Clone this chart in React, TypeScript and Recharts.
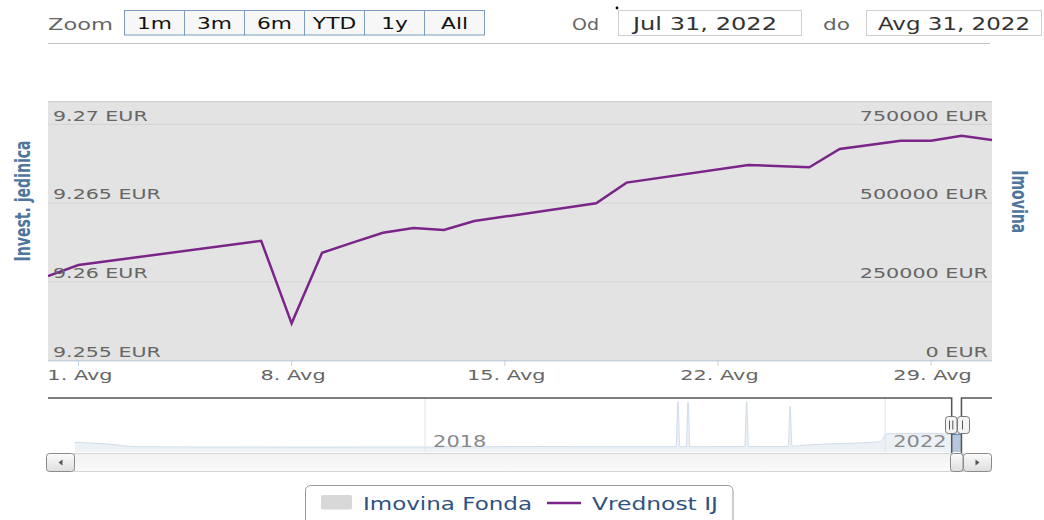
import {
  ComposedChart,
  AreaChart,
  Area,
  Line,
  XAxis,
  YAxis,
  CartesianGrid,
  ReferenceArea,
  ReferenceLine,
} from 'recharts';

const FONT = '"DejaVu Sans", Verdana, sans-serif';

// main chart (Jul 31 - Aug 31 2022)
const dates = [
  '2022-07-31', '2022-08-01', '2022-08-07', '2022-08-08', '2022-08-09', '2022-08-10',
  '2022-08-11', '2022-08-12', '2022-08-13', '2022-08-14', '2022-08-18', '2022-08-19',
  '2022-08-23', '2022-08-25', '2022-08-26', '2022-08-28', '2022-08-29', '2022-08-30',
  '2022-08-31',
];
const vrednostIJ = [
  9.26037, 9.26107, 9.26261, 9.25737, 9.26185, 9.26249,
  9.26312, 9.26342, 9.26329, 9.26386, 9.26499, 9.2663,
  9.26742, 9.26727, 9.26843, 9.26896, 9.26896, 9.26928,
  9.269,
];
// fund assets sit above the right axis max, so the area fills the whole plot
const imovinaFonda = [
  1760000, 1762000, 1765000, 1763000, 1766000, 1768000,
  1769000, 1770000, 1770000, 1771000, 1774000, 1776000,
  1778000, 1777000, 1779000, 1780000, 1781000, 1782000,
  1780000,
];
const xTicks = ['2022-08-01', '2022-08-08', '2022-08-15', '2022-08-22', '2022-08-29'];
const leftTicks = [9.255, 9.26, 9.265, 9.27];
const rightTicks = [0, 250000, 500000, 750000];
const rangeFrom = '2022-07-31';
const rangeTo = '2022-08-31';

// navigator (full history of Imovina Fonda)
const navDates = [
  '2014-12-16', '2015-03-27', '2015-07-01', '2016-01-01', '2017-01-01', '2018-01-01',
  '2019-01-01', '2019-07-01', '2020-01-01', '2020-03-08', '2020-03-14', '2020-03-20',
  '2020-04-09', '2020-04-15', '2020-04-21', '2020-10-12', '2020-10-18', '2020-10-24',
  '2021-02-27', '2021-03-05', '2021-03-11', '2021-04-27', '2021-12-16', '2022-01-05',
  '2022-03-01', '2022-06-01', '2022-07-31', '2022-08-31',
];
const navImovina = [
  970000, 800000, 530000, 500000, 480000, 500000,
  550000, 520000, 530000, 530000, 5030000, 530000,
  530000, 5030000, 530000, 540000, 5030000, 540000,
  560000, 4600000, 580000, 700000, 1030000, 1800000,
  1850000, 1870000, 1760000, 1780000,
];
const navYears = ['2018-01-01', '2022-01-01'];
const navFrom = '2014-09-22';
const navTo = '2022-12-06';

const zoomButtons = ['1m', '3m', '6m', 'YTD', '1y', 'All'];
const inputFrom = 'Jul 31, 2022';
const inputTo = 'Avg 31, 2022';

const toTs = (d: string) => Date.parse(d + 'T00:00:00Z');

const mainData = dates.map((d, i) => ({ t: toTs(d), v: vrednostIJ[i], a: imovinaFonda[i] }));
const navData = navDates.map((d, i) => ({ t: toTs(d), a: navImovina[i] }));

const navMin = toTs(navFrom);
const navMax = toTs(navTo);
const navX = (t: number) => 48 + ((t - navMin) / (navMax - navMin)) * 944;

const LINE_COLOR = '#7b2489';
const AXIS_BLUE = '#c0d0e0';
const TITLE_COLOR = '#4d759e';

function DateTick(props: any) {
  const { x, y, payload } = props;
  const d = new Date(payload.value).getUTCDate();
  return (
    <g transform={`translate(${x + 1.5},${y})`}>
      <text transform="scale(1.44,1)" textAnchor="middle" dy={12.3} fontSize={14.5} fill="#666" fontFamily={FONT}>
        {`${d}. Avg`}
      </text>
    </g>
  );
}

// labels sit inside the plot, just above their grid line
function LeftTick(props: any) {
  const { y, payload } = props;
  return (
    <text transform={`translate(53,${y - 3.7}) scale(1.47,1)`} fontSize={14} fill="#666" fontFamily={FONT}>
      {`${payload.value} EUR`}
    </text>
  );
}

function RightTick(props: any) {
  const { y, payload } = props;
  return (
    <text transform={`translate(988,${y - 3.7}) scale(1.48,1)`} textAnchor="end" fontSize={14} fill="#666" fontFamily={FONT}>
      {`${payload.value} EUR`}
    </text>
  );
}

// navigator chart is placed at top 390, so y is local
const yearLabel = (label: string) => (p: any) => {
  const vb = p.viewBox || {};
  return (
    <text transform={`translate(${vb.x + 8},57.3) scale(1.4,1)`} fontSize={15} fill="#888" fontFamily={FONT}>
      {label}
    </text>
  );
};

function MainChart() {
  return (
    <ComposedChart
      width={1044}
      height={400}
      data={mainData}
      margin={{ top: 101.7, right: 51, bottom: 9.3, left: 47 }}
    >
      <CartesianGrid yAxisId="left" vertical={false} stroke="#c0c0c0" />
      <Area
        yAxisId="right"
        dataKey="a"
        type="linear"
        stroke="none"
        fill="#dadada"
        fillOpacity={0.75}
        isAnimationActive={false}
      />
      <Line
        yAxisId="left"
        dataKey="v"
        type="linear"
        stroke={LINE_COLOR}
        strokeWidth={2.5}
        dot={false}
        activeDot={false}
        isAnimationActive={false}
      />
      <XAxis
        dataKey="t"
        type="number"
        domain={[toTs(rangeFrom), toTs(rangeTo)]}
        ticks={xTicks.map(toTs)}
        allowDataOverflow
        height={30}
        stroke={AXIS_BLUE}
        tickSize={5}
        tick={<DateTick />}
      />
      <YAxis
        yAxisId="left"
        orientation="left"
        width={1}
        domain={[9.255, 9.271434]}
        ticks={leftTicks}
        interval={0}
        allowDataOverflow
        axisLine={false}
        tickLine={false}
        tick={<LeftTick />}
      />
      <YAxis
        yAxisId="right"
        orientation="right"
        width={1}
        domain={[0, 821700]}
        ticks={rightTicks}
        interval={0}
        allowDataOverflow
        axisLine={false}
        tickLine={false}
        tick={<RightTick />}
      />
    </ComposedChart>
  );
}

function Navigator() {
  return (
    <AreaChart width={1044} height={62} data={navData} margin={{ top: 8, right: 52, bottom: 0, left: 48 }}>
      <XAxis dataKey="t" type="number" domain={[navMin, navMax]} hide />
      <YAxis domain={[0, 5400000]} hide />
      {navYears.map((y) => (
        <ReferenceLine key={y} x={toTs(y)} stroke="#e4e4e4" label={yearLabel(y.slice(0, 4))} />
      ))}
      <Area
        dataKey="a"
        type="monotone"
        stroke="#4572a7"
        strokeWidth={1}
        fill="#4572a7"
        fillOpacity={0.4}
        isAnimationActive={false}
      />
      <ReferenceArea x1={navMin} x2={toTs(rangeFrom)} fill="#fff" fillOpacity={0.75} stroke="none" />
      <ReferenceArea x1={toTs(rangeTo)} x2={navMax} fill="#fff" fillOpacity={0.75} stroke="none" />
    </AreaChart>
  );
}

function Chrome() {
  const hx1 = navX(toTs(rangeFrom));
  const hx2 = navX(toTs(rangeTo));
  return (
    <svg width={1044} height={520} style={{ position: 'absolute', left: 0, top: 0, pointerEvents: 'none' }} fontFamily={FONT}>
      <defs>
        <linearGradient id="sb" x1="0" y1="0" x2="0" y2="1">
          <stop offset="0" stopColor="#fbfbfb" />
          <stop offset="1" stopColor="#dedede" />
        </linearGradient>
        <linearGradient id="track" x1="0" y1="0" x2="0" y2="1">
          <stop offset="0" stopColor="#f2f2f2" />
          <stop offset="1" stopColor="#fafafa" />
        </linearGradient>
      </defs>

      {/* range selector */}
      <text x={48} y={30} fontSize={16} textLength={65} lengthAdjust="spacingAndGlyphs" fill="#666">Zoom</text>
      {zoomButtons.map((b, i) => (
        <g key={b}>
          <rect x={124.5 + 60 * i} y={10.5} width={60} height={24.5} fill="#f7f7f7" stroke="#7d9bc1" />
          <text transform={`translate(${154.5 + 60 * i},29.3) scale(1.45,1)`} textAnchor="middle" fontSize={15} fill="#111">
            {b}
          </text>
        </g>
      ))}
      <text x={572} y={30} fontSize={15} textLength={27} lengthAdjust="spacingAndGlyphs" fill="#666">Od</text>
      <rect x={618.5} y={10.5} width={183} height={25} fill="#fff" stroke="#cfcfcf" />
      <circle cx={617} cy={8} r={1.4} fill="#000" />
      <text x={633} y={30} fontSize={17} textLength={144} lengthAdjust="spacingAndGlyphs" fill="#333">{inputFrom}</text>
      <text x={823} y={30} fontSize={15} textLength={27} lengthAdjust="spacingAndGlyphs" fill="#666">do</text>
      <rect x={866.5} y={10.5} width={175} height={25} fill="#fff" stroke="#cfcfcf" />
      <text x={878} y={30} fontSize={17} textLength={152} lengthAdjust="spacingAndGlyphs" fill="#333">{inputTo}</text>
      <line x1={48} x2={990} y1={43.5} y2={43.5} stroke="#c4c4c4" />

      {/* axis titles */}
      <text
        transform="translate(22.5,201) scale(1.45,1) rotate(-90)"
        textAnchor="middle"
        dominantBaseline="central"
        fontSize={14.5}
        fontWeight="bold"
        textLength={121}
        lengthAdjust="spacingAndGlyphs"
        fill={TITLE_COLOR}
      >
        Invest. jedinica
      </text>
      <text
        transform="translate(1020,201.7) scale(1.45,1) rotate(90)"
        textAnchor="middle"
        dominantBaseline="central"
        fontSize={14.5}
        fontWeight="bold"
        textLength={63}
        lengthAdjust="spacingAndGlyphs"
        fill={TITLE_COLOR}
      >
        Imovina
      </text>

      {/* navigator outline + handles */}
      <path
        d={`M48,398 L${hx1},398 L${hx1},453 M${hx2},453 L${hx2},398 L992,398`}
        fill="none"
        stroke="#555"
        strokeWidth={1.5}
      />
      <rect x={945.5} y={416.5} width={11.5} height={17} rx={3} fill="#f4f4f4" stroke="#777" />
      <line x1={949.5} x2={949.5} y1={420.5} y2={429.5} stroke="#555" />
      <line x1={952.8} x2={952.8} y1={420.5} y2={429.5} stroke="#555" />
      <rect x={957.5} y={416.5} width={12} height={17} rx={3} fill="#f4f4f4" stroke="#777" />
      <line x1={962.5} x2={962.5} y1={420.5} y2={429.5} stroke="#555" />

      {/* scrollbar */}
      <rect x={74.5} y={453.5} width={889} height={18} fill="url(#track)" stroke="#d4d4d4" />
      <rect x={46.5} y={453.5} width={28} height={18} rx={3} fill="url(#sb)" stroke="#8a8a8a" />
      <path d="M58.5,462.5 L62.5,459.5 L62.5,465.5 Z" fill="#555" />
      <rect x={950.5} y={453.5} width={12.5} height={18} rx={3} fill="url(#sb)" stroke="#8a8a8a" />
      <rect x={963.5} y={453.5} width={28} height={18} rx={3} fill="url(#sb)" stroke="#8a8a8a" />
      <path d="M979.5,462.5 L975.5,459.5 L975.5,465.5 Z" fill="#555" />

      {/* legend */}
      <rect x={305.5} y={485.5} width={427.5} height={50} rx={5} fill="#fff" stroke="#999" />
      <rect x={321} y={495} width={31} height={14.5} rx={2} fill="#d8d8d8" />
      <text x={363} y={509.5} fontSize={18.5} textLength={169} lengthAdjust="spacingAndGlyphs" fill="#2f5280">
        Imovina Fonda
      </text>
      <line x1={547} x2={581} y1={503} y2={503} stroke={LINE_COLOR} strokeWidth={2.5} />
      <text x={592} y={509.5} fontSize={18.5} textLength={126} lengthAdjust="spacingAndGlyphs" fill="#2f5280">
        Vrednost IJ
      </text>
    </svg>
  );
}

export default function App() {
  return (
    <div
      style={{
        position: 'absolute',
        left: 0,
        top: 0,
        width: 1044,
        height: 520,
        background: '#fff',
        overflow: 'hidden',
        fontFamily: FONT,
      }}
    >
      <div style={{ position: 'absolute', left: 0, top: 0 }}>
        <MainChart />
      </div>
      <div style={{ position: 'absolute', left: 0, top: 390 }}>
        <Navigator />
      </div>
      <Chrome />
    </div>
  );
}
